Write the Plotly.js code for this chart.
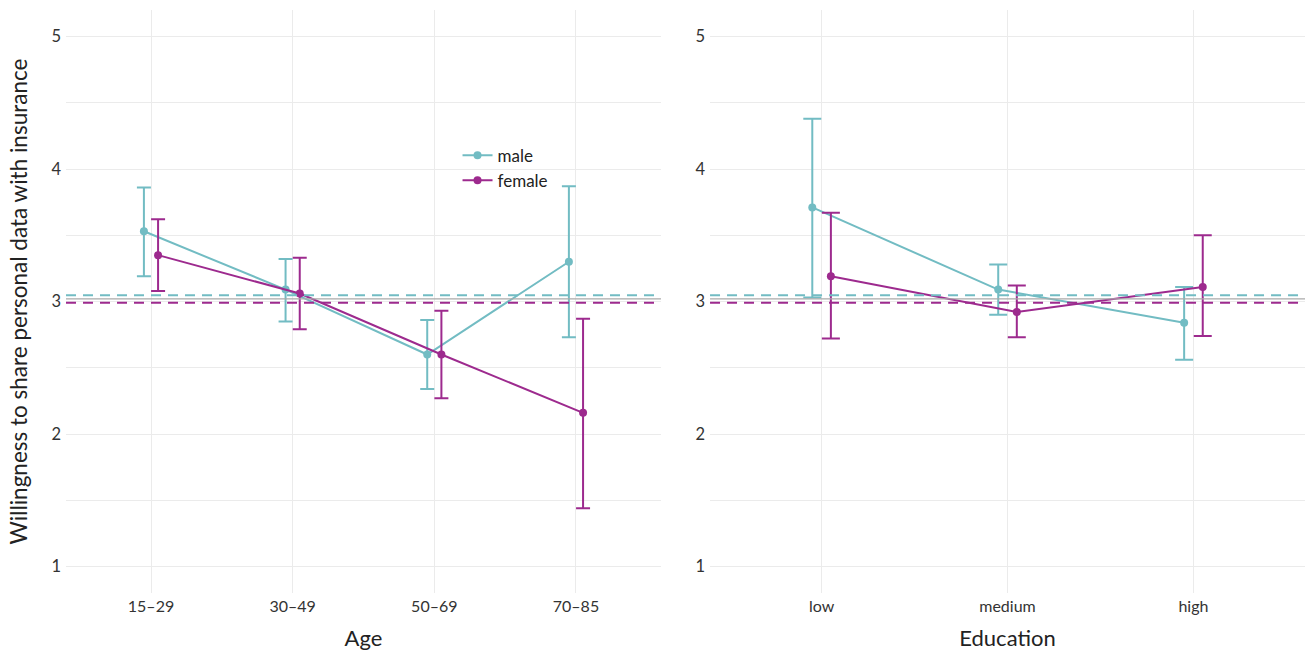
<!DOCTYPE html>
<html><head><meta charset="utf-8">
<script src="https://cdn.plot.ly/plotly-3.0.1.min.js"></script>
<style>body{margin:0;background:#fff}#chart{width:1311px;height:653px}</style>
</head><body><div id="chart"></div>
<script>
const ageCats = ["15–29", "30–49", "50–69", "70–85"];
const eduCats = ["low", "medium", "high"];

const ageMale = [3.53, 3.09, 2.60, 3.30];
const ageMaleHi = [3.86, 3.32, 2.86, 3.87];
const ageMaleLo = [3.19, 2.85, 2.34, 2.73];
const ageFemale = [3.35, 3.06, 2.60, 2.16];
const ageFemaleHi = [3.62, 3.33, 2.93, 2.87];
const ageFemaleLo = [3.08, 2.79, 2.27, 1.44];

const eduMale = [3.71, 3.09, 2.84];
const eduMaleHi = [4.38, 3.28, 3.11];
const eduMaleLo = [3.03, 2.90, 2.56];
const eduFemale = [3.19, 2.92, 3.11];
const eduFemaleHi = [3.67, 3.12, 3.50];
const eduFemaleLo = [2.72, 2.73, 2.74];

const meanAll = 3.02;
const meanMale = 3.047;
const meanFemale = 2.99;

const yTitle = "Willingness to share personal data with insurance";

const teal = "#72bcc3";
const purple = "#9d2a8e";
const dodge = 0.05;

function pts(cats, vals, hi, lo, off, color, name, xa, ya, showLeg, capw) {
  return {
    type: "scatter", mode: "lines+markers",
    x: cats.map((c, i) => i + off), y: vals,
    name: name, legendgroup: name, showlegend: showLeg,
    xaxis: xa, yaxis: ya,
    line: {color: color, width: 2},
    marker: {color: color, size: 8},
    error_y: {type: "data", symmetric: false,
      array: vals.map((v, i) => hi[i] - v),
      arrayminus: vals.map((v, i) => v - lo[i]),
      color: color, thickness: 2, width: capw}
  };
}

const traces = [
  pts(ageCats, ageMale, ageMaleHi, ageMaleLo, -dodge, teal, "male", "x", "y", true, 7),
  pts(ageCats, ageFemale, ageFemaleHi, ageFemaleLo, dodge, purple, "female", "x", "y", true, 7),
  pts(eduCats, eduMale, eduMaleHi, eduMaleLo, -dodge, teal, "male", "x2", "y2", false, 9),
  pts(eduCats, eduFemale, eduFemaleHi, eduFemaleLo, dodge, purple, "female", "x2", "y2", false, 9)
];

function hline(xref, yref, y, color, dash, width) {
  return {type: "line", xref: xref + " domain", yref: yref, x0: 0, x1: 1, y0: y, y1: y,
    line: {color: color, width: width, dash: dash}, layer: "above"};
}
const shapes = [];
[["x", "y"], ["x2", "y2"]].forEach(([xr, yr]) => {
  shapes.push(hline(xr, yr, meanAll, "#aaaaaa", "solid", 1.2));
  shapes.push(hline(xr, yr, meanMale, teal, "10px,7px", 2));
  shapes.push(hline(xr, yr, meanFemale, purple, "10px,7px", 2));
});

const font = {family: "Lato, 'Open Sans', sans-serif", color: "#333"};
const grid = "#ebebeb";
function yax() {
  return {range: [0.8, 5.2], tickvals: [1, 2, 3, 4, 5], showgrid: true, gridcolor: grid, gridwidth: 1,
    minor: {dtick: 0.5, tick0: 0, showgrid: true, gridcolor: grid, gridwidth: 1},
    zeroline: false, showline: false, ticks: "", ticklen: 0, ticklabelstandoff: 4,
    tickfont: {size: 16.5, color: "#333"}};
}
function xax(cats, range, domain, title) {
  return {range: range, domain: domain, tickvals: cats.map((c, i) => i), ticktext: cats,
    showgrid: true, gridcolor: grid, zeroline: false, showline: false, ticks: "",
    tickfont: {size: 16, color: "#333"}, ticklabelstandoff: 2,
    title: {text: title, font: {size: 22, color: "#222"}, standoff: 16}};
}

const layout = {
  width: 1311, height: 653,
  margin: {l: 66, r: 6, t: 10, b: 60},
  paper_bgcolor: "#fff", plot_bgcolor: "#fff",
  font: font,
  xaxis: xax(ageCats, [-0.6, 3.6], [0, 0.4802], "Age"),
  xaxis2: Object.assign(xax(eduCats, [-0.6, 2.6], [0.5198, 1], "Education"), {anchor: "y2"}),
  yaxis: yax(),
  yaxis2: Object.assign(yax(), {anchor: "x2"}),
  shapes: shapes,
  annotations: [{text: yTitle, xref: "paper", yref: "paper", x: -0.0387, y: 0.5,
    xanchor: "center", yanchor: "middle", textangle: -90, showarrow: false,
    font: {size: 22.5, color: "#222"}}],
  showlegend: true,
  legend: {x: 0.316, y: 0.781, xanchor: "left", yanchor: "top", bgcolor: "rgba(0,0,0,0)",
    font: {size: 17, color: "#222"}, tracegroupgap: 0, itemwidth: 30}
};

Plotly.newPlot("chart", traces, layout, {displayModeBar: false, staticPlot: true});
</script></body></html>
